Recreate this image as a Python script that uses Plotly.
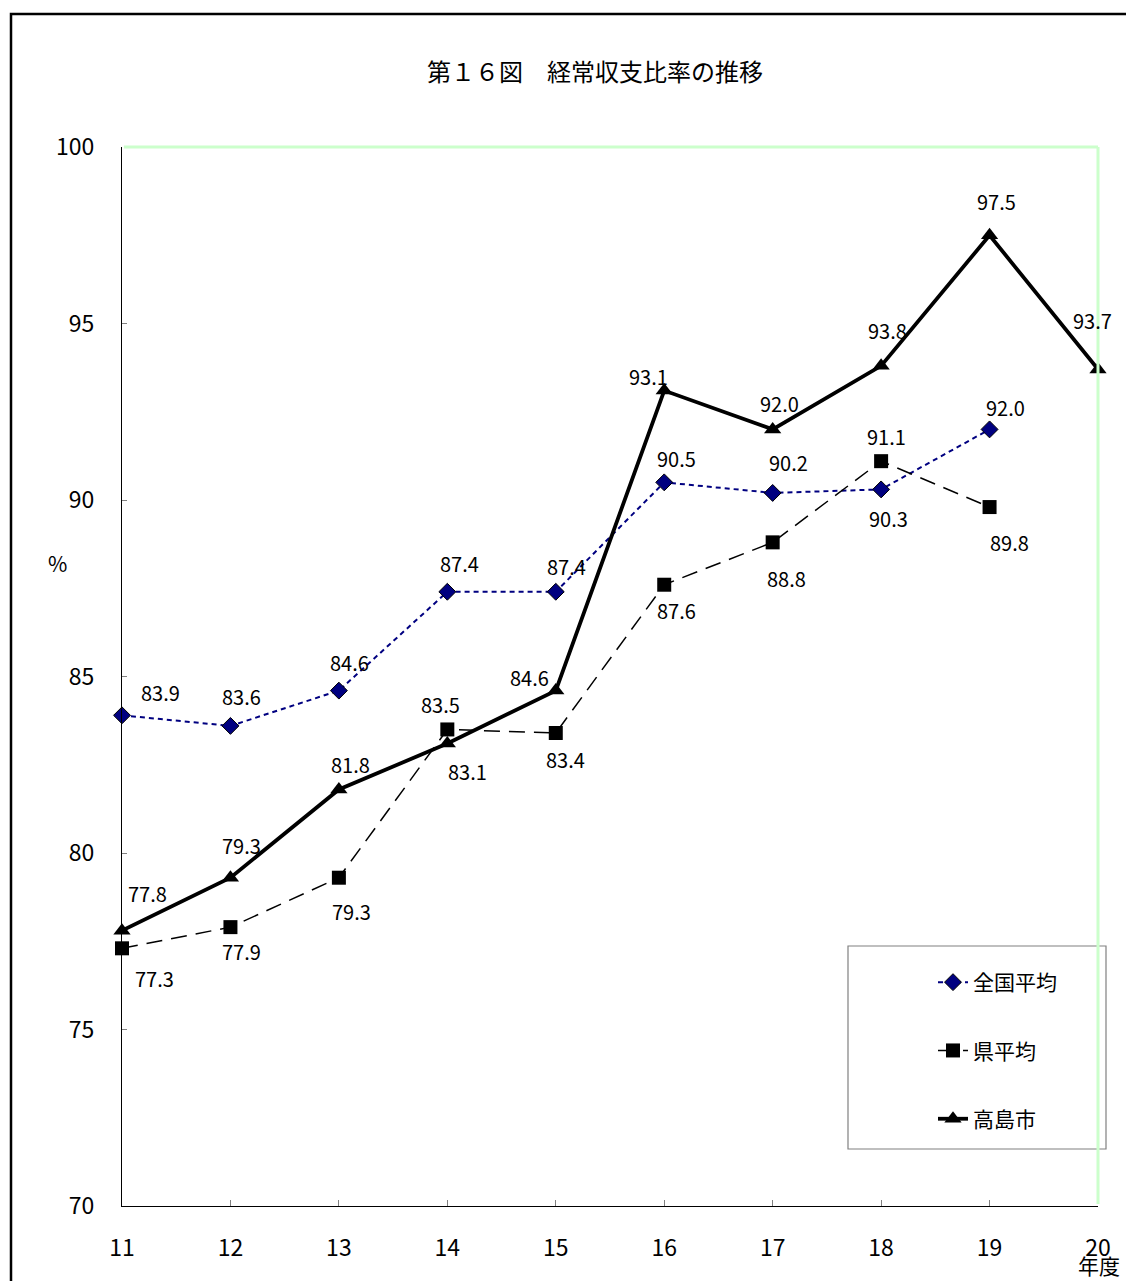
import plotly.graph_objects as go

years = [11, 12, 13, 14, 15, 16, 17, 18, 19, 20]
national = [83.9, 83.6, 84.6, 87.4, 87.4, 90.5, 90.2, 90.3, 92.0]
prefecture = [77.3, 77.9, 79.3, 83.5, 83.4, 87.6, 88.8, 91.1, 89.8]
takashima = [77.8, 79.3, 81.8, 83.1, 84.6, 93.1, 92.0, 93.8, 97.5, 93.7]
names = ["全国平均", "県平均", "高島市"]

# label offsets (style only): (xshift, yshift) in px
off_nat = [(38, 23), (11, 29), (11, 28), (12, 28), (11, 25), (12, 24), (16, 30), (7, -29), (16, 22)]
off_pref = [(32, -30), (11, -24), (13, -34), (-7, 25), (10, -27), (12, -26), (14, -36), (5, 25), (20, -35)]
off_tak = [(25, 37), (11, 32), (12, 25), (20, -28), (-26, 13), (-16, 14), (7, 26), (6, 35), (7, 34), (-6, 49)]

FONT = "Noto Sans CJK JP"
W, H = 1126, 1281
L, R, T, B = 122, 28, 147, 75
PW, PH = W - L - R, H - T - B


def px(x):
    return (x - L) / PW


def py(y):
    return (H - B - y) / PH


fig = go.Figure()
fig.add_trace(go.Scatter(
    x=years[:len(national)], y=national, name=names[0], mode="lines+markers",
    line=dict(color="#000080", width=2, dash="5px,4px"),
    marker=dict(symbol="diamond", size=13, color="#000080", line=dict(color="black", width=1)),
    cliponaxis=False, legendgroup="a"))
fig.add_trace(go.Scatter(
    x=years[:len(prefecture)], y=prefecture, name=names[1], mode="lines+markers",
    line=dict(color="black", width=1.5, dash="16px,9px"),
    marker=dict(symbol="square", size=14, color="black"),
    cliponaxis=False, legendgroup="b"))
fig.add_trace(go.Scatter(
    x=years, y=takashima, name=names[2], mode="lines+markers",
    line=dict(color="black", width=3.8),
    marker=dict(symbol="triangle-up", size=15, color="black"),
    cliponaxis=False, legendgroup="c"))

annots = []
for series, offs in ((national, off_nat), (prefecture, off_pref), (takashima, off_tak)):
    for i, v in enumerate(series):
        annots.append(dict(x=years[i], y=v, text=f"{v:.1f}", showarrow=False,
                           xshift=offs[i][0], yshift=offs[i][1],
                           xanchor="center", yanchor="middle",
                           font=dict(size=20, color="black", family=FONT)))

annots.append(dict(xref="paper", yref="paper", x=px(595), y=py(70), text="第１６図　経常収支比率の推移",
                   showarrow=False, xanchor="center", yanchor="middle",
                   font=dict(size=24, color="black", family=FONT)))
annots.append(dict(xref="paper", yref="paper", x=px(57), y=py(563), text="%",
                   showarrow=False, xanchor="center", yanchor="middle",
                   font=dict(size=21, color="black", family=FONT)))
annots.append(dict(xref="paper", yref="paper", x=px(1099), y=py(1265), text="年度",
                   showarrow=False, xanchor="center", yanchor="middle",
                   font=dict(size=21, color="black", family=FONT)))

shapes = [
    dict(type="rect", xref="paper", yref="paper", x0=px(11), x1=px(1130), y0=py(1290), y1=py(14),
         line=dict(color="black", width=2.5), layer="below"),
    dict(type="line", xref="paper", yref="paper", x0=0.002, x1=1, y0=1, y1=1,
         line=dict(color="#ccffcc", width=3)),
    dict(type="line", xref="paper", yref="paper", x0=1, x1=1, y0=0.002, y1=1,
         line=dict(color="#ccffcc", width=3)),
    dict(type="rect", xref="paper", yref="paper", x0=px(848), x1=px(1106), y0=py(1149), y1=py(946),
         line=dict(color="#808080", width=1.2), fillcolor="white", layer="below"),
]

fig.update_layout(
    width=W, height=H, margin=dict(l=L, r=R, t=T, b=B),
    paper_bgcolor="white", plot_bgcolor="rgba(0,0,0,0)",
    font=dict(family=FONT, color="black", size=18),
    showlegend=True,
    legend=dict(x=px(933), y=py(962), xanchor="left", yanchor="top",
                bgcolor="rgba(0,0,0,0)", borderwidth=0, tracegroupgap=38,
                font=dict(size=21, family=FONT)),
    annotations=annots, shapes=shapes,
    xaxis=dict(range=[11, 20], tickvals=years, ticktext=[str(y) for y in years],
               showgrid=False, zeroline=False, showline=True, linecolor="black", linewidth=1,
               ticks="inside", ticklen=6, tickcolor="#808080", ticklabelstandoff=21,
               tickfont=dict(size=23)),
    yaxis=dict(range=[70, 100], dtick=5, showgrid=False, zeroline=False, showline=True,
               linecolor="black", linewidth=1, ticks="inside", ticklen=5, tickcolor="#808080",
               ticklabelstandoff=22, tickfont=dict(size=23)),
)

fig.write_html("out.html")
